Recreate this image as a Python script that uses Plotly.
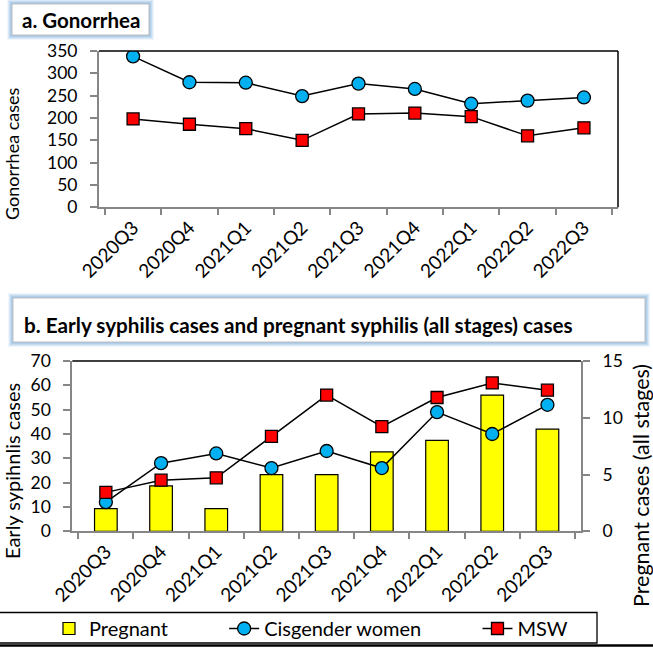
import plotly.graph_objects as go

quarters = ["2020Q3", "2020Q4", "2021Q1", "2021Q2", "2021Q3", "2021Q4", "2022Q1", "2022Q2", "2022Q3"]

gon_cis_women = [338, 280, 279, 249, 277, 265, 232, 239, 246]
gon_msw = [198, 186, 176, 150, 209, 211, 203, 160, 178]

syph_pregnant = [2, 4, 2, 5, 5, 7, 8, 12, 9]
syph_cis_women = [12, 28, 32, 26, 33, 26, 49, 40, 52]
syph_msw = [16, 21, 22, 39, 56, 43, 55, 61, 58]

title_a = "a. Gonorrhea"
title_b = "b. Early syphilis cases and pregnant syphilis (all stages) cases"
ytitle_a = "Gonorrhea cases"
ytitle_b_left = "Early sypihnlis cases"
ytitle_b_right = "Pregnant cases (all stages)"
legend_names = ["Pregnant", "Cisgender women", "MSW"]

W, H = 653, 649
FONT = "Lato, Calibri, sans-serif"
BLUE = "#00B0F0"
RED = "#FF0000"
YELLOW = "#FFFF00"
AXGRAY = "#868686"
NB = "\u00a0"


def px(x):
    return x / W


def py(y):
    return 1 - y / H


fig = go.Figure()

# Panel a
fig.add_trace(go.Scatter(x=quarters, y=gon_cis_women, mode="lines+markers", name=legend_names[1],
                         line=dict(color="black", width=1.5),
                         marker=dict(symbol="circle", size=13, color=BLUE, line=dict(color="black", width=1.3)),
                         xaxis="x", yaxis="y", showlegend=False))
fig.add_trace(go.Scatter(x=quarters, y=gon_msw, mode="lines+markers", name=legend_names[2],
                         line=dict(color="black", width=1.5),
                         marker=dict(symbol="square", size=12, color=RED, line=dict(color="black", width=1.3)),
                         xaxis="x", yaxis="y", showlegend=False))

# Panel b
fig.add_trace(go.Bar(x=quarters, y=syph_pregnant, name=legend_names[0] + NB * 10, width=0.41,
                     marker=dict(color=YELLOW, line=dict(color="black", width=1.2)),
                     xaxis="x2", yaxis="y2"))
fig.add_trace(go.Scatter(x=quarters, y=syph_cis_women, mode="lines+markers", name=legend_names[1] + NB * 10,
                         line=dict(color="black", width=1.5),
                         marker=dict(symbol="circle", size=13, color=BLUE, line=dict(color="black", width=1.3)),
                         xaxis="x2", yaxis="y3"))
fig.add_trace(go.Scatter(x=quarters, y=syph_msw, mode="lines+markers", name=legend_names[2],
                         line=dict(color="black", width=1.5),
                         marker=dict(symbol="square", size=12, color=RED, line=dict(color="black", width=1.3)),
                         xaxis="x2", yaxis="y3"))

tickfont = dict(family=FONT, size=17.5, color="black")
xcommon = dict(type="category", tickson="boundaries", ticks="outside", ticklen=6, tickwidth=1.5,
               tickcolor=AXGRAY, showline=True, linecolor=AXGRAY, linewidth=2, tickangle=-45,
               tickfont=dict(family=FONT, size=19, color="black"), showgrid=False, zeroline=False,
               automargin=False)
ycommon = dict(ticks="outside", ticklen=7, tickwidth=1.5, tickcolor=AXGRAY, showline=True,
               linecolor=AXGRAY, linewidth=2, showgrid=False, zeroline=False, tickfont=tickfont,
               automargin=False, ticklabelstandoff=9)

fig.update_layout(
    width=W, height=H, margin=dict(l=0, r=0, t=0, b=0, autoexpand=False),
    paper_bgcolor="white", plot_bgcolor="white",
    font=dict(family=FONT, color="black"),
    xaxis=dict(domain=[px(99), px(618)], anchor="y", **xcommon),
    yaxis=dict(domain=[py(207.3), py(51)], anchor="x", range=[0, 350], dtick=50, **ycommon),
    xaxis2=dict(domain=[px(72.3), px(581)], anchor="y2", **xcommon),
    yaxis2=dict(domain=[py(531.3), py(361)], anchor="x2", side="right", range=[0, 15], dtick=5, **ycommon),
    yaxis3=dict(overlaying="y2", anchor="x2", side="left", range=[0, 70], dtick=10, **ycommon),
    showlegend=True,
    legend=dict(orientation="h", x=px(49), xanchor="left", y=py(609), yanchor="top",
                borderwidth=0, bgcolor="rgba(0,0,0,0)",
                font=dict(family=FONT, size=20, color="black"), traceorder="normal"),
)

shapes = []
shapes.append(dict(type="line", xref="x domain", yref="y domain", x0=0, x1=1, y0=1, y1=1,
                   line=dict(color="black", width=1.5)))
shapes.append(dict(type="line", xref="x domain", yref="y domain", x0=1, x1=1, y0=0, y1=1,
                   line=dict(color="black", width=1.5)))
shapes.append(dict(type="line", xref="x2 domain", yref="y2 domain", x0=0, x1=1, y0=1, y1=1,
                   line=dict(color="black", width=1.5)))


def glow_box(x0, y0, x1, y1):
    out = []
    for d, op in [(5, 0.15), (4, 0.25), (3, 0.35), (2, 0.5), (1, 0.7)]:
        out.append(dict(type="rect", xref="paper", yref="paper",
                        x0=px(x0 - d), x1=px(x1 + d), y0=py(y1 + d), y1=py(y0 - d),
                        line=dict(width=0), fillcolor="#9DC3E6", opacity=op, layer="above"))
    out.append(dict(type="rect", xref="paper", yref="paper", x0=px(x0), x1=px(x1), y0=py(y1), y1=py(y0),
                    line=dict(color="#BFBFBF", width=1), fillcolor="white", layer="above"))
    return out


shapes += glow_box(12, 4, 149, 35)
shapes += glow_box(13, 298, 645, 342)
# legend frame
shapes.append(dict(type="rect", xref="paper", yref="paper", x0=px(-3), x1=px(597), y0=py(643), y1=py(612.5),
                   line=dict(color="black", width=1.3), fillcolor="rgba(0,0,0,0)", layer="below"))
shapes.append(dict(type="line", xref="paper", yref="paper", x0=0, x1=1, y0=py(645.5), y1=py(645.5),
                   line=dict(color="black", width=2.5)))
fig.update_layout(shapes=shapes)

ann = [
    dict(text="<b>" + title_a + "</b>", x=px(20), y=py(20), xref="paper", yref="paper",
         xanchor="left", yanchor="middle", showarrow=False, font=dict(family=FONT, size=20.5, color="black")),
    dict(text="<b>" + title_b + "</b>", x=px(22), y=py(325), xref="paper", yref="paper",
         xanchor="left", yanchor="middle", showarrow=False, font=dict(family=FONT, size=20.7, color="black")),
    dict(text=ytitle_a, x=px(12), y=py(154), xref="paper", yref="paper", textangle=-90,
         xanchor="center", yanchor="middle", showarrow=False, font=dict(family=FONT, size=18, color="black")),
    dict(text=ytitle_b_left, x=px(12), y=py(471), xref="paper", yref="paper", textangle=-90,
         xanchor="center", yanchor="middle", showarrow=False, font=dict(family=FONT, size=20, color="black")),
    dict(text=ytitle_b_right, x=px(641), y=py(486), xref="paper", yref="paper", textangle=-90,
         xanchor="center", yanchor="middle", showarrow=False, font=dict(family=FONT, size=21.5, color="black")),
]
fig.update_layout(annotations=ann)

fig.write_html("out.html", config={"displayModeBar": False},
               post_script="document.body.style.margin='0';document.body.style.overflow='hidden';")
